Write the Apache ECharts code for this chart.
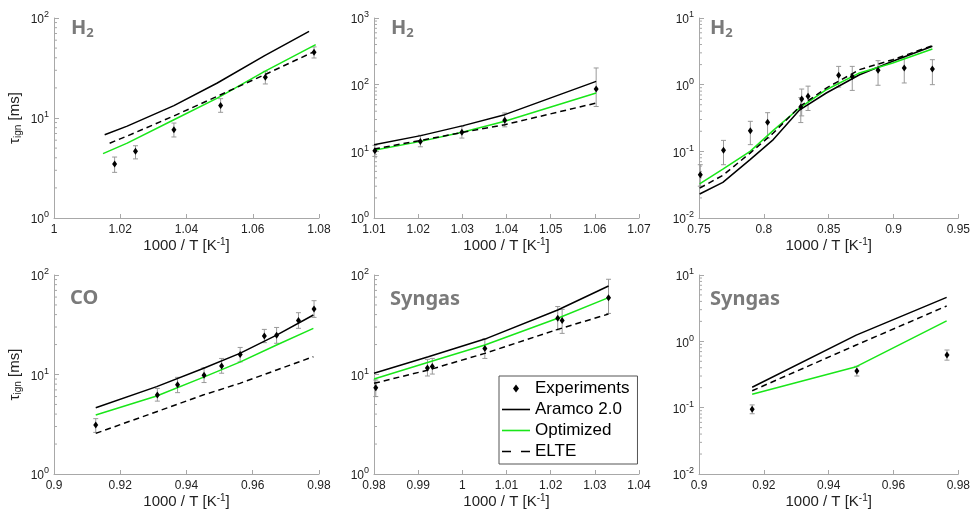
<!DOCTYPE html>
<html><head><meta charset="utf-8">
<script src="https://cdn.jsdelivr.net/npm/echarts@6/dist/echarts.min.js"></script>
<style>html,body{margin:0;padding:0;background:#fff}#c{width:973px;height:515px}</style>
</head><body><div id="c"></div>
<script>
// ===== Panel 1: H2 (top-left) =====
const p1ExpX = [1.0183, 1.0246, 1.0362, 1.0503, 1.0638, 1.0785];
const p1ExpY = [3.47, 4.64, 7.64, 13.3, 25.5, 45.4];
const p1ExpLo = [2.86, 3.9, 6.46, 11.4, 21.9, 39.8];
const p1ExpHi = [4.07, 5.28, 8.9, 15.6, 29.3, 51.4];
const p1AramcoX = [1.0153, 1.0221, 1.0362, 1.0493, 1.0636, 1.0770];
const p1AramcoY = [6.8, 8.3, 13.3, 22.4, 42, 73.6];
const p1OptX = [1.0148, 1.0221, 1.0362, 1.0493, 1.0636, 1.0790];
const p1OptY = [4.4, 5.6, 9.6, 15.8, 29.3, 54.1];
const p1ElteX = [1.0168, 1.0221, 1.0362, 1.0493, 1.0636, 1.0787];
const p1ElteY = [5.6, 6.6, 10.5, 16.5, 27.1, 46.4];

// ===== Panel 2: H2 (top-middle) =====
const p2ExpX = [1.0102, 1.0205, 1.0299, 1.0396, 1.0603];
const p2ExpY = [10.2, 14.1, 19.3, 29.2, 86];
const p2ExpLo = [8.4, 11.7, 15.8, 23.3, 47];
const p2ExpHi = [12.3, 17.4, 23.7, 37.6, 178];
const p2LineX = [1.01, 1.0206, 1.0302, 1.0396, 1.0603];
const p2AramcoY = [12.6, 17.2, 24.3, 35.5, 112];
const p2OptY = [10.4, 14.1, 19.5, 28.2, 75];
const p2ElteY = [10.8, 14.6, 19.3, 25.1, 53];

// ===== Panel 3: H2 (top-right) =====
const p3ExpX = [0.751, 0.7689, 0.7896, 0.8029, 0.8285, 0.8292, 0.8341, 0.8577, 0.8682, 0.8881, 0.9083, 0.93];
const p3ExpY = [0.0447, 0.1035, 0.204, 0.272, 0.462, 0.61, 0.67, 1.38, 1.33, 1.64, 1.78, 1.72];
const p3ExpLo = [0.030, 0.063, 0.126, 0.158, 0.27, 0.34, 0.41, 0.92, 0.82, 0.98, 1.06, 1.0];
const p3ExpHi = [0.063, 0.146, 0.282, 0.38, 0.64, 0.86, 0.95, 1.88, 1.88, 2.29, 2.51, 2.37];
const p3LineX = [0.7505, 0.7684, 0.7894, 0.8073, 0.8277, 0.8482, 0.8738, 0.8994, 0.93];
const p3AramcoY = [0.0229, 0.0343, 0.075, 0.15, 0.42, 0.75, 1.41, 2.24, 3.76];
const p3OptY = [0.0324, 0.054, 0.10, 0.206, 0.45, 0.84, 1.5, 2.11, 3.43];
const p3ElteY = [0.028, 0.0437, 0.094, 0.188, 0.47, 0.89, 1.68, 2.37, 3.85];

// ===== Panel 4: CO (bottom-left) =====
const p4ExpX = [0.9126, 0.9312, 0.9373, 0.9453, 0.9506, 0.9562, 0.9635, 0.9672, 0.9738, 0.9785];
const p4ExpY = [3.11, 6.22, 7.9, 9.8, 12.2, 15.9, 24.4, 24.8, 34.8, 45.5];
const p4ExpLo = [2.62, 5.4, 6.57, 8.3, 10.3, 13.4, 20.9, 20.6, 29.1, 37.5];
const p4ExpHi = [3.6, 7.25, 9.36, 11.7, 14.5, 18.7, 28.4, 29.7, 41.8, 55.2];
const p4LineX = [0.9126, 0.931, 0.945, 0.9561, 0.9672, 0.9783];
const p4AramcoY = [4.64, 7.55, 11.5, 16.3, 24.9, 39.6];
const p4OptY = [3.92, 6.08, 9.36, 13.3, 19.8, 29.1];
const p4ElteY = [2.56, 4.23, 6.22, 8.15, 11.1, 15.1];

// ===== Panel 5: Syngas (bottom-middle) =====
const p5ExpX = [0.9804, 0.9921, 0.9932, 1.0051, 1.0216, 1.0226, 1.0331];
const p5ExpY = [7.37, 11.6, 12.0, 18.2, 36.7, 34.8, 59.2];
const p5ExpLo = [6.0, 9.66, 10.1, 14.5, 28.1, 25.9, 41.1];
const p5ExpHi = [8.8, 14.2, 14.5, 22.8, 48.2, 45.1, 90.6];
const p5LineX = [0.98, 0.9923, 1.0051, 1.0216, 1.0331];
const p5AramcoY = [10.3, 15.1, 22.7, 44.5, 77.5];
const p5OptY = [9.0, 13.3, 19.8, 36.7, 59.2];
const p5ElteY = [8.15, 11.1, 16.3, 28.4, 40.5];

// ===== Panel 6: Syngas (bottom-right) =====
const p6ExpX = [0.9164, 0.9487, 0.9765];
const p6ExpY = [0.0944, 0.357, 0.622];
const p6ExpLo = [0.081, 0.30, 0.52];
const p6ExpHi = [0.11, 0.42, 0.74];
const p6LineX = [0.9164, 0.9485, 0.9764];
const p6AramcoY = [0.203, 1.24, 4.6];
const p6OptY = [0.159, 0.415, 2.03];
const p6ElteY = [0.18, 0.88, 3.41];

// ===== Axes ranges and titles =====
const xMins = [1, 1.01, 0.75, 0.9, 0.98, 0.9];
const xMaxs = [1.08, 1.07, 0.95, 0.98, 1.04, 0.98];
const xInts = [0.02, 0.01, 0.05, 0.02, 0.01, 0.02];
const yMins = [1, 1, 0.01, 1, 1, 0.01];
const yMaxs = [100, 1000, 10, 100, 100, 10];
const panelTitles = ['{m|H}{s|2}', '{m|H}{s|2}', '{m|H}{s|2}', '{m|CO}', '{m|Syngas}', '{m|Syngas}'];
const legendNames = ['Experiments', 'Aramco 2.0', 'Optimized', 'ELTE'];

const panelData = [
  {ex:p1ExpX, ey:p1ExpY, lo:p1ExpLo, hi:p1ExpHi, ax:p1AramcoX, ay:p1AramcoY, ox:p1OptX, oy:p1OptY, lx:p1ElteX, ly:p1ElteY},
  {ex:p2ExpX, ey:p2ExpY, lo:p2ExpLo, hi:p2ExpHi, ax:p2LineX, ay:p2AramcoY, ox:p2LineX, oy:p2OptY, lx:p2LineX, ly:p2ElteY},
  {ex:p3ExpX, ey:p3ExpY, lo:p3ExpLo, hi:p3ExpHi, ax:p3LineX, ay:p3AramcoY, ox:p3LineX, oy:p3OptY, lx:p3LineX, ly:p3ElteY},
  {ex:p4ExpX, ey:p4ExpY, lo:p4ExpLo, hi:p4ExpHi, ax:p4LineX, ay:p4AramcoY, ox:p4LineX, oy:p4OptY, lx:p4LineX, ly:p4ElteY},
  {ex:p5ExpX, ey:p5ExpY, lo:p5ExpLo, hi:p5ExpHi, ax:p5LineX, ay:p5AramcoY, ox:p5LineX, oy:p5OptY, lx:p5LineX, ly:p5ElteY},
  {ex:p6ExpX, ey:p6ExpY, lo:p6ExpLo, hi:p6ExpHi, ax:p6LineX, ay:p6AramcoY, ox:p6LineX, oy:p6OptY, lx:p6LineX, ly:p6ElteY}
];

// ===== Layout / style =====
const FONT = '"Liberation Sans", Arial, Helvetica, sans-serif';
const TFONT = '"Noto Sans", "Open Sans", sans-serif';
const AXIS_C = '#a8a8a8';
const TXT_C = '#222';
const GREEN = '#19e619';
const gridPos = [
  {left:54, top:18, width:265, height:200},
  {left:374, top:18, width:265, height:200},
  {left:699, top:18, width:260, height:200},
  {left:54, top:275, width:265, height:199},
  {left:374, top:275, width:265, height:199},
  {left:699, top:275, width:260, height:199}
];
const titlePos = [[71,18],[391,18],[710,18],[70,288],[390,289],[710,289]];
const legendIcons = [
  'path://M3,0L6,4L3,8L0,4Z',
  'path://M0,0h28v1.6h-28z',
  'path://M0,0h28v1.6h-28z',
  'path://M0,0h9v1.6h-9zM19,0h9v1.6h-9z'
];

const zip = (a, b) => a.map((v, k) => [v, b[k]]);

const grid = [], xAxis = [], yAxis = [], series = [], graphic = [];
for (let i = 0; i < 6; i++) {
  grid.push(Object.assign({containLabel:false}, gridPos[i]));
  const leftCol = (i === 0 || i === 3);
  xAxis.push({
    type:'value', gridIndex:i, min:xMins[i], max:xMaxs[i], interval:xInts[i],
    axisLine:{show:true, onZero:false, lineStyle:{color:AXIS_C, width:1}},
    axisTick:{show:true, inside:true, length:4, lineStyle:{color:AXIS_C}},
    splitLine:{show:false},
    axisLabel:{color:TXT_C, fontSize:12, fontFamily:FONT, margin:6},
    name:'1000 / T [K{s|-1}]', nameLocation:'middle', nameGap: i < 3 ? 15 : 17,
    nameTextStyle:{color:TXT_C, fontSize:15, fontFamily:FONT,
      rich:{s:{fontSize:10, fontFamily:FONT, color:TXT_C, padding:[0,0,8,0]}}}
  });
  yAxis.push({
    type:'log', logBase:10, gridIndex:i, min:yMins[i], max:yMaxs[i],
    axisLine:{show:true, lineStyle:{color:AXIS_C, width:1}},
    axisTick:{show:true, inside:true, length:5, lineStyle:{color:AXIS_C}},
    splitLine:{show:false},
    axisLabel:{margin:5, formatter: v => '{b|10}{s|' + Math.round(Math.log10(v)) + '}',
      rich:{b:{fontSize:12, fontFamily:FONT, color:TXT_C, padding:[4,0,0,0]},
            s:{fontSize:9, fontFamily:FONT, color:TXT_C, padding:[0,0,6,0]}}},
    name: leftCol ? '{t|τ}{s|ign} [ms]' : '', nameLocation:'middle', nameGap:31,
    nameTextStyle:{color:TXT_C, fontSize:15, fontFamily:FONT,
      rich:{t:{fontSize:15, fontFamily:FONT, color:TXT_C},
            s:{fontSize:10, fontFamily:FONT, color:TXT_C, padding:[7,0,0,0]}}}
  });

  // minor ticks of the log axis (2..9 x 10^k) drawn through the axis scale
  const minor = [];
  for (let e = Math.round(Math.log10(yMins[i])); e < Math.round(Math.log10(yMaxs[i])); e++) {
    for (let m = 2; m <= 9; m++) minor.push([xMins[i], m * Math.pow(10, e)]);
  }
  series.push({
    type:'custom', name:'minor', xAxisIndex:i, yAxisIndex:i, silent:true, clip:false, z:1,
    data:minor, encode:{x:0, y:1},
    renderItem:(p, api) => {
      const c = api.coord([api.value(0), api.value(1)]);
      return {type:'line', shape:{x1:c[0], y1:c[1], x2:c[0] + 3, y2:c[1]}, style:{stroke:AXIS_C, lineWidth:1}};
    }
  });

  const d = panelData[i];
  // error bars
  series.push({
    type:'custom', name:'err', xAxisIndex:i, yAxisIndex:i, silent:true, z:2,
    data:d.ex.map((x, k) => [x, d.lo[k], d.hi[k]]), encode:{x:0, y:[1, 2]},
    renderItem:(p, api) => {
      const a = api.coord([api.value(0), api.value(1)]);
      const b = api.coord([api.value(0), api.value(2)]);
      const w = 2.5, st = {stroke:'#999', lineWidth:1};
      return {type:'group', children:[
        {type:'line', shape:{x1:a[0], y1:a[1], x2:b[0], y2:b[1]}, style:st},
        {type:'line', shape:{x1:a[0]-w, y1:a[1], x2:a[0]+w, y2:a[1]}, style:st},
        {type:'line', shape:{x1:b[0]-w, y1:b[1], x2:b[0]+w, y2:b[1]}, style:st}
      ]};
    }
  });
  series.push({type:'line', name:legendNames[1], xAxisIndex:i, yAxisIndex:i, data:zip(d.ax, d.ay),
    symbol:'none', lineStyle:{color:'#000', width:1.5}, itemStyle:{color:'#000'}, z:3, animation:false});
  series.push({type:'line', name:legendNames[2], xAxisIndex:i, yAxisIndex:i, data:zip(d.ox, d.oy),
    symbol:'none', lineStyle:{color:GREEN, width:1.5}, itemStyle:{color:GREEN}, z:3, animation:false});
  series.push({type:'line', name:legendNames[3], xAxisIndex:i, yAxisIndex:i, data:zip(d.lx, d.ly),
    symbol:'none', lineStyle:{color:'#000', width:1.5, type:[6,4]}, itemStyle:{color:'#000'}, z:3, animation:false});
  series.push({type:'scatter', name:legendNames[0], xAxisIndex:i, yAxisIndex:i, data:zip(d.ex, d.ey),
    symbol:'diamond', symbolSize:[5,7], itemStyle:{color:'#000', opacity:1}, z:4, animation:false});

  graphic.push({type:'text', left:titlePos[i][0], top:titlePos[i][1], z:10,
    style:{text:panelTitles[i], rich:{
      m:{fontSize:20, fontWeight:'bold', fontFamily:TFONT, fill:'#7a7a7a'},
      s:{fontSize:13, fontWeight:'bold', fontFamily:TFONT, fill:'#7a7a7a', padding:[10,0,0,0]}}}});
}

const chart = echarts.init(document.getElementById('c'), null, {renderer:'canvas'});
chart.setOption({
  animation:false,
  backgroundColor:'#fff',
  grid, xAxis, yAxis, series, graphic,
  legend:{
    show:true, orient:'vertical', left:499, top:376,
    itemWidth:28, itemHeight:8, itemGap:2, padding:[3,8,3,3], symbolKeepAspect:true,
    borderColor:'#555', borderWidth:1, backgroundColor:'#fff',
    textStyle:{fontSize:17, fontFamily:FONT, color:'#000', lineHeight:19},
    data:legendNames.map((n, k) => ({name:n, icon:legendIcons[k]}))
  }
});
</script></body></html>
